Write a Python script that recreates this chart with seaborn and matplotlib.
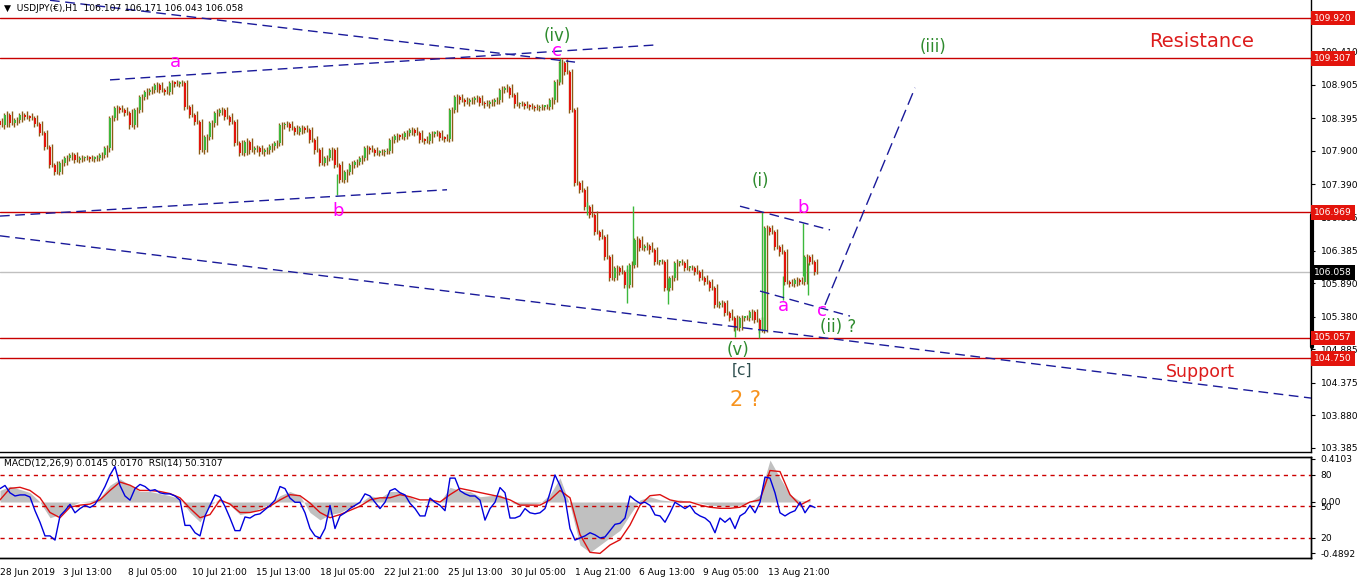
import numpy as np
import pandas as pd
import matplotlib
matplotlib.use("Agg")
import matplotlib.pyplot as plt
import matplotlib.transforms as mtransforms
import seaborn as sns

# ---- price data: H1 closes sampled every 5 bars (bar 0 = 28 Jun 2019) ----
STEP = 5
closes = [
    108.29, 108.45, 108.32, 108.37, 108.45, 108.42, 108.40, 108.31, 108.17, 107.96,
    107.69, 107.58, 107.72, 107.79, 107.84, 107.76, 107.79, 107.79, 107.78, 107.79,
    107.84, 107.94, 108.40, 108.55, 108.52, 108.48, 108.29, 108.52, 108.72, 108.80,
    108.83, 108.90, 108.83, 108.80, 108.93, 108.92, 108.93, 108.57, 108.45, 108.34,
    107.91, 108.11, 108.32, 108.48, 108.52, 108.42, 108.34, 108.02, 107.87, 108.04,
    107.91, 107.94, 107.88, 107.91, 107.97, 108.02, 108.29, 108.31, 108.25, 108.19,
    108.25, 108.22, 108.07, 107.91, 107.72, 107.79, 107.91, 107.69, 107.46, 107.58,
    107.69, 107.73, 107.79, 107.94, 107.91, 107.87, 107.88, 107.90, 108.07, 108.13,
    108.11, 108.17, 108.22, 108.17, 108.07, 108.05, 108.16, 108.17, 108.10, 108.08,
    108.52, 108.72, 108.67, 108.64, 108.67, 108.70, 108.63, 108.61, 108.64, 108.67,
    108.83, 108.86, 108.75, 108.61, 108.61, 108.58, 108.57, 108.55, 108.57, 108.57,
    108.67, 108.95, 109.24, 109.10, 108.52, 107.41, 107.31, 107.05, 106.93, 106.67,
    106.59, 106.29, 105.97, 106.12, 106.06, 105.86, 106.17, 106.55, 106.43, 106.46,
    106.39, 106.21, 106.21, 105.82, 105.97, 106.20, 106.20, 106.12, 106.12, 106.06,
    105.97, 105.91, 105.82, 105.56, 105.59, 105.44, 105.36, 105.21, 105.36, 105.36,
    105.45, 105.33, 105.18, 106.73, 106.67, 106.44, 106.36, 105.91, 105.88, 105.94,
    105.91, 106.29, 106.21, 106.06,
]
first_open = 108.35

# long wicks that stand out (bar, low, high)
wick_bar = [337, 560, 587, 627, 633, 668, 735, 759, 762, 783, 803, 808]
wick_low = [107.23, 108.95, 106.93, 105.59, 106.17, 105.58, 105.07, 105.05, 105.18, 105.63, 106.00, 105.71]
wick_high = [107.55, 109.31, 107.13, 106.17, 107.07, 105.97, 105.36, 105.33, 106.97, 106.00, 106.80, 106.20]

# ---- indicator data ----
rsi = [
    67, 70, 63, 60, 61, 61, 59, 46, 35, 22, 22, 18, 41, 46, 52, 44, 48, 51, 49, 52,
    60, 69, 80, 88, 70, 60, 56, 67, 71, 69, 65, 66, 63, 62, 62, 60, 56, 32, 32, 25,
    22, 41, 51, 61, 59, 50, 39, 27, 27, 40, 39, 42, 43, 47, 51, 56, 69, 67, 58, 54,
    54, 44, 29, 22, 20, 29, 51, 29, 41, 44, 48, 51, 54, 62, 60, 54, 48, 54, 65, 67,
    63, 61, 53, 48, 41, 41, 58, 54, 51, 46, 77, 77, 65, 62, 60, 60, 56, 37, 48, 54,
    68, 63, 39, 39, 41, 48, 44, 43, 44, 48, 63, 80, 70, 58, 29, 18, 20, 22, 25, 23,
    20, 21, 27, 33, 34, 39, 60, 56, 53, 54, 51, 42, 41, 35, 44, 54, 51, 48, 51, 44,
    41, 39, 35, 25, 39, 35, 39, 29, 41, 44, 51, 44, 54, 78, 77, 63, 44, 41, 44, 46,
    54, 44, 51, 49,
]
MACD_STEP = 10
macd_hist = [
    0.11, 0.15, 0.12, 0.09, 0.00, -0.15, -0.12, -0.04, 0.00, 0.01,
    0.04, 0.16, 0.22, 0.16, 0.10, 0.10, 0.08, 0.06, 0.03, -0.10,
    -0.19, -0.03, 0.03, -0.03, -0.12, -0.10, -0.06, -0.02, 0.06, 0.10,
    0.06, -0.10, -0.17, -0.12, -0.10, -0.05, -0.01, 0.06, 0.04, 0.10,
    0.10, 0.05, -0.01, 0.02, 0.00, 0.14, 0.11, 0.10, 0.05, 0.06,
    0.07, 0.00, -0.03, -0.02, -0.01, 0.07, 0.23, -0.03, -0.41, -0.48,
    -0.41, -0.34, -0.27, -0.12, 0.02, 0.05, 0.02, 0.01, 0.02, 0.00,
    -0.01, -0.03, -0.04, -0.04, -0.03, 0.00, 0.07, 0.40, 0.23, 0.07,
    0.01, 0.015,
]
macd_signal = [
    0.02, 0.13, 0.14, 0.11, 0.04, -0.10, -0.15, -0.05, -0.03, -0.02,
    0.02, 0.11, 0.19, 0.16, 0.11, 0.11, 0.10, 0.08, 0.04, -0.06,
    -0.15, -0.12, 0.02, -0.02, -0.10, -0.10, -0.08, -0.04, 0.02, 0.07,
    0.06, -0.01, -0.10, -0.15, -0.12, -0.08, -0.04, 0.02, 0.04, 0.04,
    0.07, 0.05, 0.02, 0.02, 0.00, 0.07, 0.13, 0.11, 0.09, 0.07,
    0.05, 0.02, -0.03, -0.03, -0.03, 0.02, 0.11, 0.04, -0.31, -0.48,
    -0.49, -0.41, -0.36, -0.22, -0.03, 0.06, 0.07, 0.02, 0.00, 0.00,
    -0.03, -0.05, -0.06, -0.06, -0.05, 0.00, 0.02, 0.30, 0.29, 0.07,
    -0.03, 0.02,
]
rsi_levels = [80, 50, 20]

# ---- levels, trendlines and wave labels ----
red_levels = [109.920, 109.307, 106.969, 105.057, 104.750]
last_price = 106.058
price_ticks = [109.410, 108.905, 108.395, 107.900, 107.390, 106.895, 106.385,
               105.890, 105.380, 104.885, 104.375, 103.880, 103.385]
range_bar = [106.93, 104.92]

trend_lines = [  # (bar0, price0, bar1, price1, dash)
    (50, 110.19, 575, 109.25, (7, 4)),
    (110, 108.98, 655, 109.51, (7, 4)),
    (0, 106.91, 447, 107.31, (7, 4)),
    (0, 106.61, 1313, 104.14, (7, 4)),
    (740, 107.06, 830, 106.70, (7, 4)),
    (760, 105.77, 850, 105.39, (7, 4)),
    (825, 105.56, 915, 108.86, (9, 4)),
]

wave_text = ["(iv)", "c", "a", "b", "(i)", "b", "a", "c", "(ii) ?", "(v)", "[c]", "2 ?", "(iii)",
             "Resistance", "Support"]
wave_bar = [557, 557, 175, 338, 760, 803, 783, 822, 838, 738, 742, 745, 933, 1202, 1200]
wave_price = [109.64, 109.42, 109.25, 106.99, 107.45, 107.03, 105.54, 105.46, 105.23, 104.87,
              104.57, 104.11, 109.48, 109.57, 104.54]
wave_color = ["#2e8b2e", "#ff00ff", "#ff00ff", "#ff00ff", "#2e8b2e", "#ff00ff", "#ff00ff",
              "#ff00ff", "#2e8b2e", "#2e8b2e", "#2f4f4f", "#f7931e", "#2e8b2e", "#dd1c1c", "#dd1c1c"]
wave_size = [12, 13, 13, 13, 12, 13, 13, 13, 12, 12, 11, 15, 12, 14, 12.5]

date_bars = [0, 63, 128, 192, 256, 320, 384, 448, 511, 575, 639, 703, 768]
date_labels = ["28 Jun 2019", "3 Jul 13:00", "8 Jul 05:00", "10 Jul 21:00", "15 Jul 13:00",
               "18 Jul 05:00", "22 Jul 21:00", "25 Jul 13:00", "30 Jul 05:00", "1 Aug 21:00",
               "6 Aug 13:00", "9 Aug 05:00", "13 Aug 21:00"]

sns.set_style("white")
plt.rcParams['font.family'] = ['DejaVu Sans']

W, H = 1361, 583
fig = plt.figure(figsize=(W / 100, H / 100), dpi=100)
ax = fig.add_axes([0, 1 - 452 / H, 1311 / W, 452 / H])
axm = fig.add_axes([0, 1 - 558 / H, 1311 / W, 101 / H])
axr = axm.twinx()

XMAX = 1311
ax.set_xlim(0, XMAX)
ax.set_ylim(103.324, 110.194)

# candles
df = pd.DataFrame({"bar": np.arange(len(closes)) * STEP, "close": closes})
df["open"] = df["close"].shift(1).fillna(first_open)
df["lo"] = df[["open", "close"]].min(axis=1)
df["hi"] = df[["open", "close"]].max(axis=1)
df["up"] = df["close"] >= df["open"]
ax.vlines(df["bar"] - 1, df["lo"] - 0.05, df["hi"] + 0.03, color="#8a5a14", lw=1, zorder=3)
ax.vlines(df["bar"] + 1.5, df["lo"] - 0.03, df["hi"] + 0.05, color="#8a5a14", lw=1, zorder=3)
for up, col in [(True, "#3cb83c"), (False, "#e3140c")]:
    d = df[df["up"] == up]
    ax.bar(d["bar"], np.maximum(d["hi"] - d["lo"], 0.025), bottom=d["lo"], width=2.6,
           color=col, linewidth=0, zorder=4)
ax.vlines(wick_bar, wick_low, wick_high, color="#3cb83c", lw=1, zorder=3)

# levels
for lv in red_levels:
    ax.axhline(lv, color="#c80000", lw=1, zorder=2)
ax.axhline(last_price, color="#c0c0c0", lw=1, zorder=1)

for b0, p0, b1, p1, dash in trend_lines:
    ax.plot([b0, b1], [p0, p1], color="#1a1a9a", lw=1, dashes=dash, zorder=5)

for t, b, p, c, s in zip(wave_text, wave_bar, wave_price, wave_color, wave_size):
    ax.text(b, p, t, color=c, fontsize=s, ha="center", va="center", zorder=6)

ax.text(4, 109.98 + 0.08, "\u25bc  USDJPY(\u20ac),H1  106.107 106.171 106.043 106.058",
        fontsize=6.6, color="black", va="center", ha="left", zorder=7)

# right price axis
ax.yaxis.tick_right()
ax.set_yticks(price_ticks)
ax.set_yticklabels([f"{v:.3f}" for v in price_ticks])
ax.tick_params(axis="y", labelsize=6.6, length=3, pad=4, colors="black")
ax.set_xticks([])
for sp in ["left", "top"]:
    ax.spines[sp].set_visible(False)
for sp in ["right", "bottom"]:
    ax.spines[sp].set_color("black")
    ax.spines[sp].set_linewidth(1)

trans = mtransforms.blended_transform_factory(ax.transAxes, ax.transData)
for lv in red_levels:
    ax.text(1.0025, lv, f"{lv:.3f}", transform=trans, fontsize=6.6, color="white", va="center",
            ha="left", zorder=10, clip_on=False,
            bbox=dict(boxstyle="square,pad=0.32", fc="#e3140c", ec="none"))
ax.text(1.0025, last_price, f"{last_price:.3f}", transform=trans, fontsize=6.6, color="white",
        va="center", ha="left", zorder=10, clip_on=False,
        bbox=dict(boxstyle="square,pad=0.32", fc="black", ec="none"))
ax.plot([1.0005, 1.0005], range_bar, transform=trans, color="black", lw=3, clip_on=False, zorder=9)

# ---- indicator panel ----
axm.set_xlim(0, XMAX)
axm.set_ylim(-0.534, 0.429)
axr.set_ylim(0.95, 97.1)
mb = np.arange(len(macd_hist)) * MACD_STEP
axm.fill_between(mb, 0, macd_hist, color="#c0c0c0", lw=0, zorder=1)
sns.lineplot(x=mb, y=macd_signal, ax=axm, color="#dd1010", lw=1, zorder=3)
for lv in rsi_levels:
    axr.axhline(lv, color="#cc0000", lw=1, dashes=(3, 3), zorder=1)
rb = np.arange(len(rsi)) * STEP
sns.lineplot(x=rb, y=rsi, ax=axr, color="#0000dd", lw=1, zorder=4)
axr.patch.set_visible(False)

axm.yaxis.tick_right()
axm.set_yticks([0.4103, 0.0, -0.4892])
axm.set_yticklabels(["0.4103", "0.00", "-0.4892"])
axr.set_yticks(rsi_levels)
axr.set_yticklabels(["80", "50", "20"])
for a in (axm, axr):
    a.tick_params(axis="y", labelsize=6.6, length=3, pad=4, colors="black")
    a.set_ylabel("")
axr.set_xticks([])
axm.set_xticks(date_bars)
axm.set_xticklabels(date_labels, ha="left")
axm.tick_params(axis="x", labelsize=6.6, length=3, pad=4, colors="black")
for a in (axm, axr):
    a.spines["left"].set_visible(False)
    for sp in ["right", "bottom", "top"]:
        a.spines[sp].set_color("black")
        a.spines[sp].set_linewidth(1)

axm.text(4, 0.37, "MACD(12,26,9) 0.0145 0.0170  RSI(14) 50.3107", fontsize=6.6,
         color="black", va="center", ha="left", zorder=7)

fig.savefig("out.png", dpi=100, facecolor="white")
